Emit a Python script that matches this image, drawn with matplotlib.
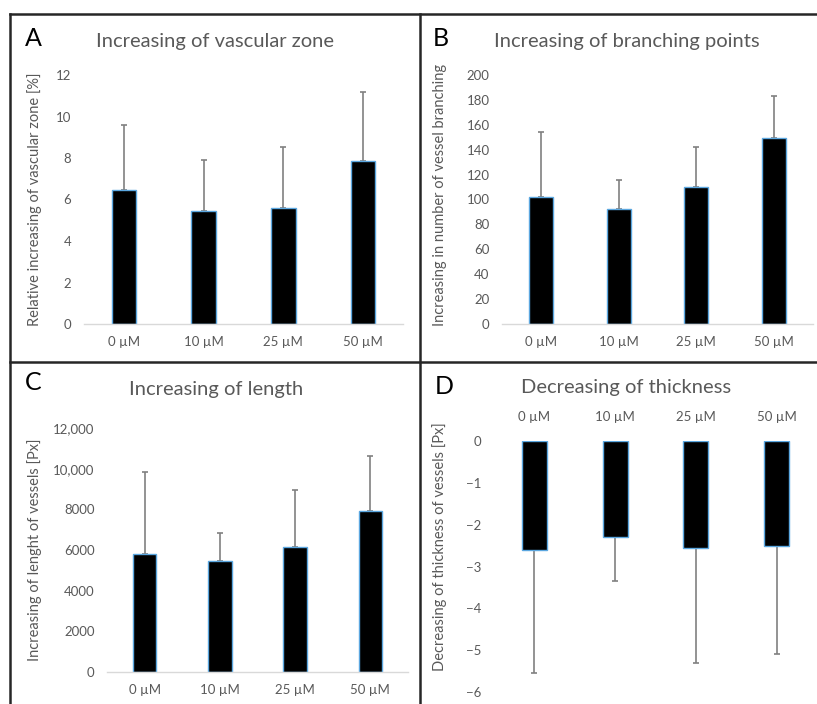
import matplotlib.pyplot as plt
import numpy as np

plt.rcParams['font.family'] = ['Lato', 'DejaVu Sans']

# data
doses = ['0 µM', '10 µM', '25 µM', '50 µM']

zone_mean = [6.45, 5.45, 5.6, 7.85]
zone_err = [3.15, 2.45, 2.95, 3.35]

branch_mean = [102, 92, 110, 149]
branch_err = [52, 24, 32, 34]

length_mean = [5800, 5450, 6150, 7900]
length_err = [4050, 1400, 2800, 2700]

thick_mean = [-2.6, -2.3, -2.55, -2.5]
thick_err = [2.95, 1.05, 2.75, 2.6]

W, H = 817, 704
gray = '#595959'
edge = '#5BA7E0'


def px_axes(fig, x0, x1, y_top, y_bot):
    return fig.add_axes([x0 / W, 1 - y_bot / H, (x1 - x0) / W, (y_bot - y_top) / H])


def draw_bars(ax, mean, err, ylim, ticks, labels, ylabel, top=False):
    x = np.arange(len(doses))
    ax.bar(x, mean, width=0.31, color='black', edgecolor=edge, linewidth=1.0, zorder=2)
    if top:
        yerr = [err, [0] * len(err)]
    else:
        yerr = [[0] * len(err), err]
    ax.errorbar(x, mean, yerr=yerr, fmt='none', ecolor='#808080', elinewidth=1.2,
                capsize=2.5, capthick=1.2, zorder=1)
    ax.set_xlim(-0.5, len(doses) - 0.5)
    ax.set_ylim(*ylim)
    ax.set_yticks(ticks)
    ax.set_yticklabels(labels)
    ax.set_xticks(x)
    ax.set_xticklabels(doses)
    for s in ax.spines.values():
        s.set_visible(False)
    if not top:
        ax.spines['bottom'].set_visible(True)
        ax.spines['bottom'].set_color('#d9d9d9')
        ax.spines['bottom'].set_linewidth(1.0)
        ax.tick_params(axis='x', length=0, pad=9, labelsize=9.5, labelcolor=gray)
    else:
        ax.xaxis.tick_top()
        ax.tick_params(axis='x', length=0, pad=13, labelsize=9.5, labelcolor=gray)
    ax.tick_params(axis='y', length=0, pad=9, labelsize=9.5, labelcolor=gray)
    ax.set_ylabel(ylabel, fontsize=10.5, color=gray)
    ax.patch.set_alpha(0)


fig = plt.figure(figsize=(W / 100, H / 100), dpi=100)

# panel A
axA = px_axes(fig, 84, 403, 75, 324)
draw_bars(axA, zone_mean, zone_err, (0, 12), range(0, 13, 2),
          [str(v) for v in range(0, 13, 2)], 'Relative increasing of vascular zone [%]')
axA.yaxis.set_label_coords((42 - 84) / 319, 0.5)

# panel B
axB = px_axes(fig, 502, 813, 75, 324)
draw_bars(axB, branch_mean, branch_err, (0, 200), range(0, 201, 20),
          [str(v) for v in range(0, 201, 20)], 'Increasing in number of vessel branching')
axB.yaxis.set_label_coords((447 - 502) / 311, 0.52)

# panel C
axC = px_axes(fig, 107, 408, 428, 672)
c_ticks = list(range(0, 12001, 2000))
c_labels = ['0', '2000', '4000', '6000', '8000', '10,000', '12,000']
draw_bars(axC, length_mean, length_err, (0, 12000), c_ticks, c_labels,
          'Increasing of lenght of vessels [Px]')
axC.yaxis.set_label_coords((42 - 107) / 301, 0.5)

# panel D
axD = px_axes(fig, 494, 817, 441, 692)
d_ticks = list(range(0, -7, -1))
d_labels = ['0'] + ['\u2212%d' % -v for v in d_ticks[1:]]
draw_bars(axD, thick_mean, thick_err, (-6, 0), d_ticks, d_labels,
          'Decreasing of thickness of vessels [Px]', top=True)
axD.yaxis.set_label_coords((447 - 494) / 323, 0.58)

# titles and panel letters
fig.text(215 / W, 1 - 41 / H, 'Increasing of vascular zone', fontsize=14.5, color=gray,
         ha='center', va='center')
fig.text(627 / W, 1 - 41 / H, 'Increasing of branching points', fontsize=14.5, color=gray,
         ha='center', va='center')
fig.text(216 / W, 1 - 389 / H, 'Increasing of length', fontsize=14.5, color=gray,
         ha='center', va='center')
fig.text(626 / W, 1 - 387 / H, 'Decreasing of thickness', fontsize=14.5, color=gray,
         ha='center', va='center')
for lx, ly, letter in [(33, 39, 'A'), (441, 39, 'B'), (33, 383, 'C'), (444, 387, 'D')]:
    fig.text(lx / W, 1 - ly / H, letter, fontsize=18, color='black', ha='center', va='center')

# panel frame lines
frame = dict(color='#262626', linewidth=1.8, transform=fig.transFigure)
fig.add_artist(plt.Line2D([10 / W, 1], [1 - 14 / H, 1 - 14 / H], **frame))
fig.add_artist(plt.Line2D([10 / W, 10 / W], [0, 1 - 14 / H], **frame))
fig.add_artist(plt.Line2D([420 / W, 420 / W], [0, 1 - 14 / H], **frame))
fig.add_artist(plt.Line2D([10 / W, 1], [1 - 362 / H, 1 - 362 / H], **frame))

fig.savefig('out.png', dpi=100)
